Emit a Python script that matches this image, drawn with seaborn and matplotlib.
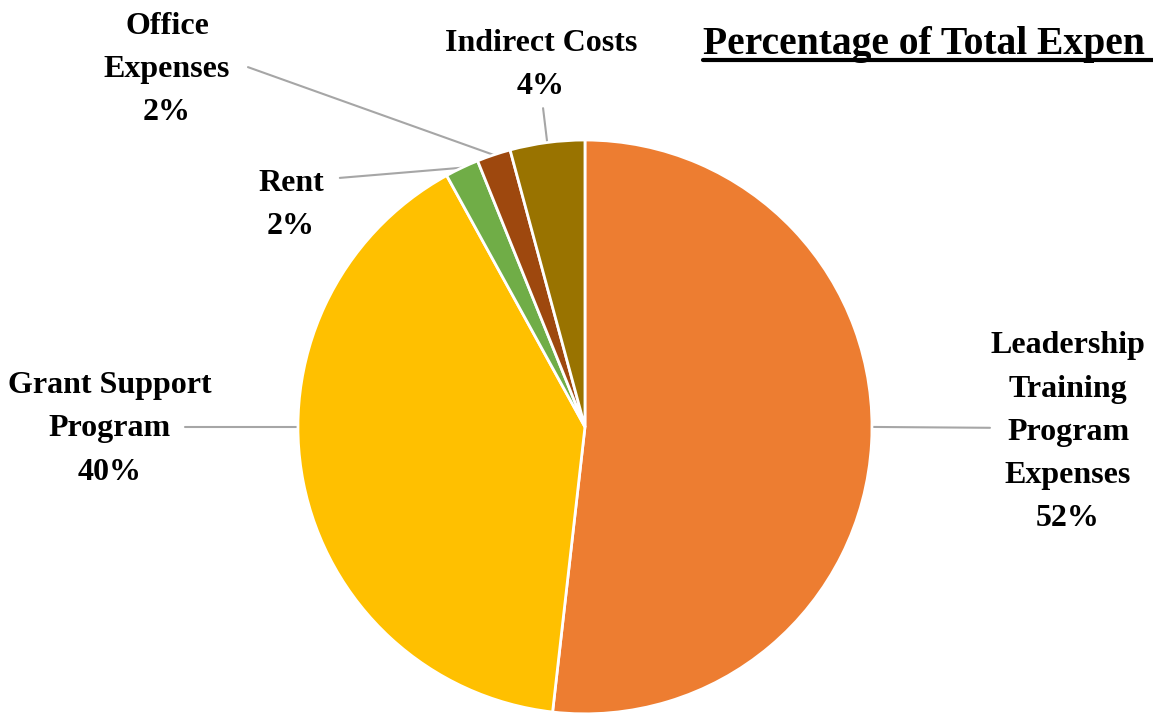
import numpy as np
import matplotlib
matplotlib.use("Agg")
import matplotlib.pyplot as plt
from matplotlib.lines import Line2D
import seaborn as sns

# data (clockwise from 12 o'clock)
categories = ['Leadership\nTraining\nProgram\nExpenses', 'Grant Support\nProgram',
              'Rent', 'Office\nExpenses', 'Indirect Costs']
values = [51.8, 40.2, 1.9, 1.9, 4.2]
pct_labels = ['52%', '40%', '2%', '2%', '4%']
colors = ['#ED7D31', '#FFC000', '#70AD47', '#9E480E', '#997300']

# label centres and leader lines (in pie-radius units)
label_pos = [(1.683, -0.018), (-1.655, -0.007), (-1.024, 0.775), (-1.456, 1.245), (-0.153, 1.262)]
leader_end = [(1.411, -0.003), (-1.394, 0.0), (-0.854, 0.868), (-1.174, 1.254), (-0.146, 1.111)]
leader_angle = [90, 270, None, None, None]  # None -> middle of wedge

sns.set_theme(style="white")
plt.rcParams['font.family'] = ['Liberation Serif', 'DejaVu Serif']

fig = plt.figure(figsize=(11.53, 7.13), dpi=100)
ax = fig.add_axes([0, 0, 1, 1])
ax.pie(values, colors=colors, startangle=90, counterclock=False, radius=1,
       wedgeprops=dict(edgecolor='white', linewidth=2))
ax.set_aspect('auto')
ax.set_xlim(-2.038, 1.979)
ax.set_ylim(-0.997, 1.488)
ax.axis('off')

# wedge middle angles, clockwise from top
cum = np.cumsum([0] + values)
total = cum[-1]
for i, cat in enumerate(categories):
    ang = leader_angle[i]
    if ang is None:
        ang = (cum[i] + cum[i + 1]) / 2 / total * 360
    a = np.deg2rad(ang)
    x0, y0 = np.sin(a), np.cos(a)
    x1, y1 = leader_end[i]
    ax.plot([x0, x1], [y0, y1], color='#A6A6A6', lw=1.5, zorder=0)
    tx, ty = label_pos[i]
    ax.text(tx, ty, cat + '\n' + pct_labels[i], ha='center', va='center',
            fontsize=23, fontweight='bold', color='black', linespacing=1.64)

# title, cut at the right edge as in the original
fig.text(703 / 1153, 1 - 54 / 713, 'Percentage of Total Expen',
         ha='left', va='baseline', fontsize=28.5, fontweight='bold', color='black')
fig.add_artist(Line2D([703 / 1153, 1.0], [1 - 60 / 713, 1 - 60 / 713],
                      transform=fig.transFigure, color='black', lw=3))

fig.savefig('out.png', dpi=100)
